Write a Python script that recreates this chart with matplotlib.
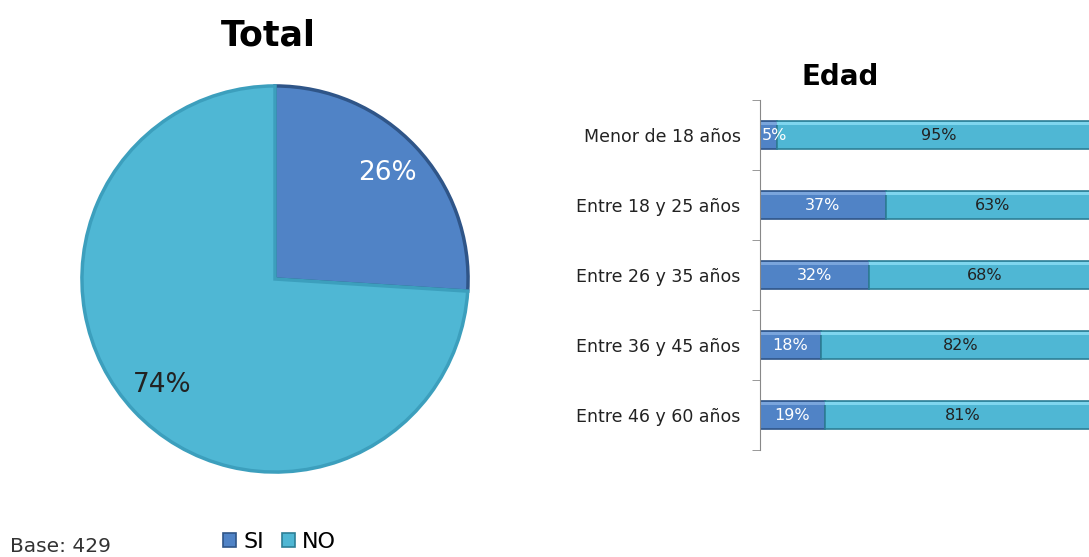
import matplotlib
matplotlib.use("Agg")
import matplotlib.pyplot as plt
import numpy as np

# datos
total_labels = ["SI", "NO"]
total_vals = [26, 74]

edades = ["Menor de 18 años", "Entre 18 y 25 años", "Entre 26 y 35 años",
          "Entre 36 y 45 años", "Entre 46 y 60 años"]
si_vals = [5, 37, 32, 18, 19]
no_vals = [95, 63, 68, 82, 81]

c_si = "#5083c6"
c_no = "#4fb7d4"
c_si_edge = "#2f5588"
c_no_edge = "#2d7f96"

plt.rcParams["font.family"] = ["DejaVu Sans"]

fig = plt.figure(figsize=(10.89, 5.57), dpi=100)
W, H = 1089, 557

## pastel total
axp = fig.add_axes([80 / W, 83 / H, 390 / W, 390 / H])
wedges, _, autot = axp.pie(total_vals, colors=[c_si, c_no], startangle=90,
                           counterclock=False, autopct="%d%%", pctdistance=0.8,
                           wedgeprops=dict(edgecolor="#3c9fbd", linewidth=2.5),
                           textprops=dict(fontsize=19))
wedges[0].set_edgecolor(c_si_edge)
autot[0].set_color("white")
autot[1].set_color("#222222")
axp.set_xlim(-1.01, 1.01)
axp.set_ylim(-1.01, 1.01)
fig.text(268 / W, 1 - 35 / H, "Total", ha="center", va="center",
         fontsize=25, fontweight="bold")

## barras por edad
axb = fig.add_axes([760 / W, 107 / H, 340 / W, 350 / H])
y = np.arange(len(edades))
b1 = axb.barh(y, si_vals, height=0.4, color=c_si, edgecolor=c_si_edge, linewidth=1.2)
b2 = axb.barh(y, no_vals, left=si_vals, height=0.4, color=c_no,
              edgecolor=c_no_edge, linewidth=1.2)
# brillo superior de cada barra
axb.barh(y - 0.165, si_vals, height=0.04, color="#7aa5dc", linewidth=0)
axb.barh(y - 0.165, no_vals, left=si_vals, height=0.04, color="#7fd6ee", linewidth=0)
axb.set_xlim(0, 100)
axb.set_ylim(len(edades) - 0.5, -0.5)
axb.set_yticks(y)
axb.set_yticklabels(edades, fontsize=12.5, color="#222222")
axb.set_yticks(np.arange(-0.5, len(edades)), minor=True)
axb.tick_params(axis="y", which="major", length=0, pad=14)
axb.tick_params(axis="y", which="minor", length=6, color="#888888", direction="out")
axb.set_xticks([])
for s in ["top", "right", "bottom"]:
    axb.spines[s].set_visible(False)
axb.spines["left"].set_color("#888888")

for i in range(len(edades)):
    if si_vals[i] < 8:
        axb.text(0.6, i, f"{si_vals[i]}%", ha="left", va="center",
                 color="white", fontsize=11.5)
    else:
        axb.text(si_vals[i] / 2, i, f"{si_vals[i]}%", ha="center", va="center",
                 color="white", fontsize=11.5)
    axb.text(si_vals[i] + no_vals[i] / 2, i, f"{no_vals[i]}%", ha="center",
             va="center", color="#222222", fontsize=11.5)

fig.text(840 / W, 1 - 77 / H, "Edad", ha="center", va="center",
         fontsize=20, fontweight="bold")

## leyenda y base
fig.text(10 / W, 1 - 547 / H, "Base: 429", ha="left", va="center",
         fontsize=14.5, color="#333333")
leg = fig.legend([b1, b2], total_labels, loc="center left",
                 bbox_to_anchor=(212 / W, 1 - 542 / H), ncol=2, frameon=False,
                 fontsize=16, handlelength=0.6, handleheight=0.6,
                 handletextpad=0.3, columnspacing=0.8, borderpad=0)

fig.savefig("out.png", dpi=100)
